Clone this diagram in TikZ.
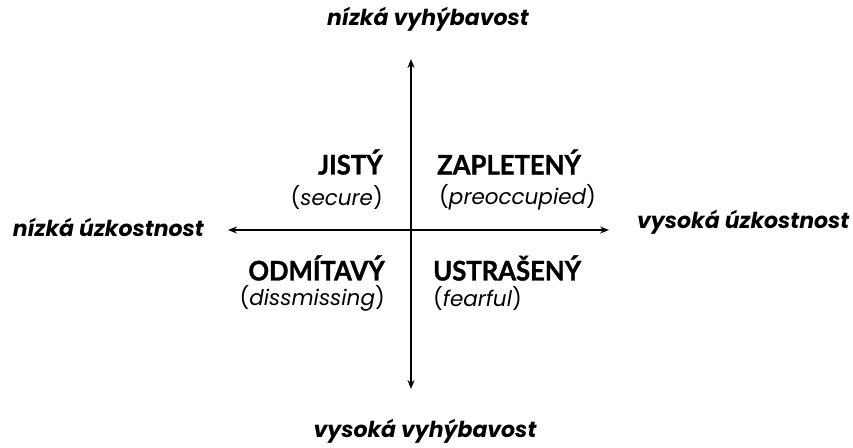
\documentclass[tikz,border=0pt]{standalone}
\usepackage{fontspec}
\setmainfont{Poppins}
\newfontfamily\capsfont[FakeStretch=0.95,BoldFeatures={FakeBold=1.2}]{Lato}
\usetikzlibrary{arrows.meta}
\tikzset{
  axis/.style={line width=1.6pt,{Stealth[length=9pt,width=7pt]}-{Stealth[length=9pt,width=7pt]}},
  axlabel/.style={font=\fontsize{22}{25}\selectfont\bfseries\itshape,inner sep=0pt},
  quadname/.style={font=\fontsize{27}{30}\capsfont\bfseries,inner sep=0pt},
  quadsub/.style={font=\fontsize{21.5}{25}\selectfont,inner sep=0pt},
}
\begin{document}
\begin{tikzpicture}[x=1pt,y=-1pt]
\useasboundingbox (0,0) rectangle (853,447);
\coordinate (L) at (228,230);
\coordinate (R) at (609,230);
\coordinate (T) at (411,59);
\coordinate (B) at (411,389);
\draw[axis] (L) -- (R);
\draw[axis] (T) -- (B);
\node[axlabel] (top) at (428,19) {nízká vyhýbavost};
\node[axlabel] (bot) at (425,431) {vysoká vyhýbavost};
\node[axlabel,anchor=east] (left) at (204,227) {nízká úzkostnost};
\node[axlabel,anchor=west] (right) at (637,222) {vysoká úzkostnost};
\node[quadname,anchor=east] (q1) at (383,162) {JISTÝ};
\node[quadsub,anchor=east] (q1s) at (383,197) {(\textit{secure})};
\node[quadname,anchor=west] (q2) at (437,162) {ZAPLETENÝ};
\node[quadsub,anchor=west] (q2s) at (439,197) {(\textit{preoccupied})};
\node[quadname,anchor=east] (q3) at (385,268) {ODMÍTAVÝ};
\node[quadsub,anchor=east] (q3s) at (385,298) {(\textit{dissmissing})};
\node[quadname,anchor=west] (q4) at (433,268) {USTRAŠENÝ};
\node[quadsub,anchor=west] (q4s) at (433,298) {(\textit{fearful})};
\end{tikzpicture}
\end{document}
